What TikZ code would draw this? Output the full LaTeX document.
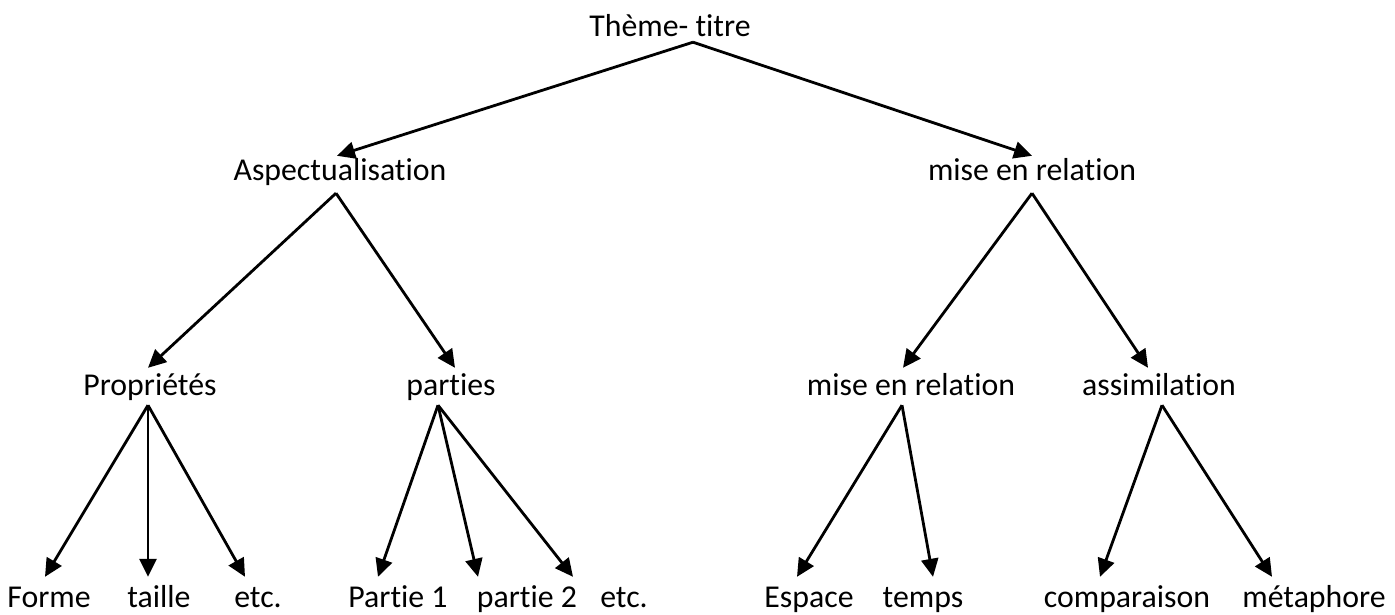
\documentclass[tikz,border=0pt]{standalone}
\usepackage{fontspec}
\setmainfont{Carlito}[RawFeature={-liga;-clig;-dlig;-calt}]
\usetikzlibrary{arrows.meta}
\begin{document}
\begin{tikzpicture}[x=1pt,y=-1pt,
  lbl/.style={inner sep=0pt, anchor=base, font=\fontsize{31.8}{36}\selectfont},
  lvA/.style={lbl, text height=20pt, text depth=6pt},
  lvB/.style={lbl, text height=24pt, text depth=13pt},
  lvC/.style={lbl, text height=27pt, text depth=10pt},
  lvD/.style={lbl, text height=30pt, text depth=8pt},
  arr/.style={line width=2.8pt, -{Triangle[length=18pt,width=17pt]}}]
\useasboundingbox (0,0) rectangle (1395,614);
% level 1
\node[lvA] (T) at (670,36) {Thème- titre};
% level 2
\node[lvB] (A) at (340,180) {Aspectualisation};
\node[lvB] (M) at (1032,180) {mise en relation};
% level 3
\node[lvC] (P) at (150,395) {Propriétés};
\node[lvC] (Pa) at (451,395) {parties};
\node[lvC] (Mb) at (911,395) {mise en relation};
\node[lvC] (As) at (1159,395) {assimilation};
% level 4
\node[lvD] (Fo) at (49,607) {Forme};
\node[lvD] (Ta) at (159,607) {taille};
\node[lvD] (Ea) at (258,607) {etc.};
\node[lvD] (Pu) at (398,607) {Partie 1};
\node[lvD] (Pd) at (527,607) {partie 2};
\node[lvD] (Eb) at (624,607) {etc.};
\node[lvD] (Es) at (809,607) {Espace};
\node[lvD] (Te) at (923,607) {temps};
\node[lvD] (Co) at (1127,607) {comparaison};
\node[lvD] (Me) at (1314,607) {métaphore};
% connectors
\draw[arr] ([xshift=23pt]T.south) -- ([xshift=-3pt]A.north);
\draw[arr] ([xshift=23pt]T.south) -- (M.north);
\draw[arr] ([xshift=-4pt]A.south) -- ([xshift=-2pt]P.north);
\draw[arr] ([xshift=-4pt]A.south) -- ([xshift=4pt]Pa.north);
\draw[arr] (M.south) -- ([xshift=-8pt]Mb.north);
\draw[arr] (M.south) -- ([xshift=-11pt]As.north);
\draw[arr] ([xshift=-2pt]P.south) -- ([xshift=-4pt]Fo.north);
\draw[arr] ([xshift=-2pt]P.south) -- ([xshift=-11pt]Ta.north);
\draw[arr] ([xshift=-2pt]P.south) -- ([xshift=-13pt]Ea.north);
\draw[arr] ([xshift=-13pt]Pa.south) -- ([xshift=-20pt]Pu.north);
\draw[arr] ([xshift=-13pt]Pa.south) -- ([xshift=-49pt]Pd.north);
\draw[arr] ([xshift=-13pt]Pa.south) -- ([xshift=-51pt]Eb.north);
\draw[arr] ([xshift=-9pt]Mb.south) -- ([xshift=-12pt]Es.north);
\draw[arr] ([xshift=-9pt]Mb.south) -- ([xshift=10pt]Te.north);
\draw[arr] ([xshift=3pt]As.south) -- ([xshift=-27pt]Co.north);
\draw[arr] ([xshift=3pt]As.south) -- ([xshift=-42pt]Me.north);
\end{tikzpicture}
\end{document}
